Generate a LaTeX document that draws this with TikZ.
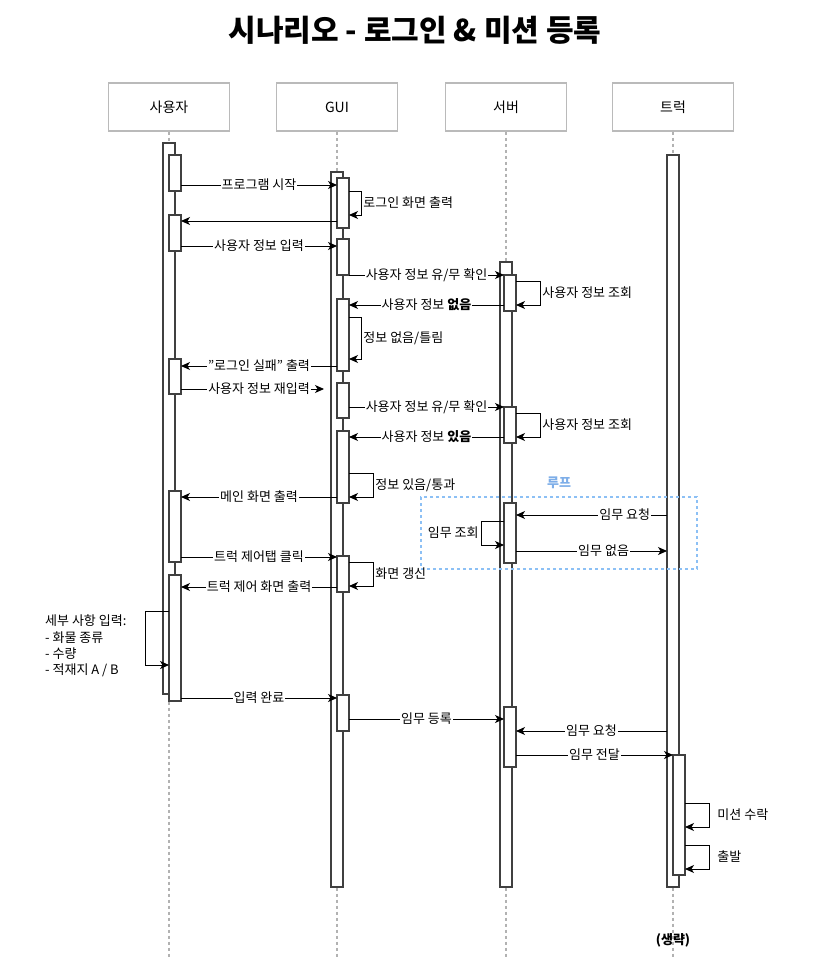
\documentclass[tikz,border=0pt]{standalone}
\usepackage{fontspec}
\setmainfont{Noto Sans CJK KR}
\usetikzlibrary{arrows.meta,fit}
\definecolor{loopblue}{HTML}{8CC0F5}
\definecolor{looptext}{HTML}{7EAEE8}
\begin{document}
\begin{tikzpicture}[x=1pt,y=-1pt,
  part/.style={draw=black!27, line width=1.3pt, fill=white, minimum width=121pt, minimum height=48pt, inner sep=0pt, font=\fontsize{14}{16}\selectfont},
  life/.style={draw=black!30, line width=1.2pt, dash pattern=on 3pt off 3pt},
  actbar/.style={draw=black!75, line width=1.4pt, fill=white, inner sep=0pt, outer sep=0pt},
  msg/.style={-{Stealth[length=9pt,width=8pt,inset=2.5pt]}, line width=0.9pt},
  lbl/.style={fill=white, inner sep=1pt, font=\fontsize{13}{15}\selectfont},
  slbl/.style={inner sep=2pt, font=\fontsize{13}{15}\selectfont},
  ]
\useasboundingbox (0,0) rectangle (817,957);

% title
\node[font=\fontsize{30}{33}\selectfont\bfseries] (title) at (415,30) {시나리오 - 로그인 \& 미션 등록};

% participants
\node[part] (pU) at (169,107) {사용자};
\node[part] (pG) at (337,107) {GUI};
\node[part] (pS) at (506,107) {서버};
\node[part] (pT) at (673,107) {트럭};

\draw[life] (pU.south) -- (pU.south |- 0,957);
\draw[life] (pG.south) -- (pG.south |- 0,957);
\draw[life] (pS.south) -- (pS.south |- 0,957);
\draw[life] (pT.south) -- (pT.south |- 0,957);

% outer bars
\node[actbar, fit={(163,143)(175,694)}] (uo) {};
\node[actbar, fit={(331,172)(343,887)}] (go) {};
\node[actbar, fit={(500,262)(512,887)}] (so) {};
\node[actbar, fit={(667,155)(679,887)}] (to) {};

% user inner bars
\node[actbar, fit={(169,155)(181,191)}] (u1) {};
\node[actbar, fit={(169,215)(181,251)}] (u2) {};
\node[actbar, fit={(169,359)(181,394)}] (u3) {};
\node[actbar, fit={(169,491)(181,562)}] (u4) {};
\node[actbar, fit={(169,575)(181,701)}] (u5) {};

% gui inner bars
\node[actbar, fit={(337,178)(349,228)}] (g1) {};
\node[actbar, fit={(337,239)(349,275)}] (g2) {};
\node[actbar, fit={(337,299)(349,371)}] (g3) {};
\node[actbar, fit={(337,383)(349,418)}] (g4) {};
\node[actbar, fit={(337,431)(349,503)}] (g5) {};
\node[actbar, fit={(337,556)(349,592)}] (g6) {};
\node[actbar, fit={(337,695)(349,731)}] (g7) {};

% server inner bars
\node[actbar, fit={(504,275)(516,311)}] (s1) {};
\node[actbar, fit={(504,407)(516,443)}] (s2) {};
\node[actbar, fit={(504,503)(516,563)}] (s3) {};
\node[actbar, fit={(504,707)(516,767)}] (s4) {};

% truck inner bar
\node[actbar, fit={(673,755)(685,875)}] (t1) {};

% loop frame
\node[draw=loopblue, line width=1.3pt, dash pattern=on 3pt off 3pt, inner sep=0pt, fit={(421,497)(697,569)}] (loop) {};
\node[font=\fontsize{13}{15}\selectfont\bfseries, text=looptext] (looplbl) at (559,483) {루프};

% messages
\draw[msg] (u1.east |- 0,185) -- node[lbl]{프로그램 시작} (g1.west |- 0,185);
\draw[msg] (g1.east |- 0,191) -- ++(12,0) |- node[slbl, right, pos=0.25]{로그인 화면 출력} (g1.east |- 0,215);
\draw[msg] (g1.west |- 0,221) -- (u2.east |- 0,221);
\draw[msg] (u2.east |- 0,246) -- node[lbl]{사용자 정보 입력} (g2.west |- 0,246);
\draw[msg] (g2.east |- 0,275) -- node[lbl]{사용자 정보 유/무 확인} (s1.west |- 0,275);
\draw[msg] (s1.east |- 0,281) -- ++(24,0) |- node[slbl, right, pos=0.25]{사용자 정보 조회} (s1.east |- 0,305);
\draw[msg] (s1.west |- 0,305) -- node[lbl]{사용자 정보 \textbf{없음}} (g3.east |- 0,305);
\draw[msg] (g3.east |- 0,317) -- ++(12,0) |- node[slbl, right, pos=0.25]{정보 없음/틀림} (g3.east |- 0,359);
\draw[msg] (g3.west |- 0,366) -- node[lbl]{"로그인 실패" 출력} (u3.east |- 0,366);
\coordinate (reinp) at (324,389);
\draw[msg] (u3.east |- 0,389) -- (reinp);
\node[lbl] (reinplbl) at (259,389) {사용자 정보 재입력};
\draw[msg] (g4.east |- 0,407) -- node[lbl]{사용자 정보 유/무 확인} (s2.west |- 0,407);
\draw[msg] (s2.east |- 0,413) -- ++(24,0) |- node[slbl, right, pos=0.25]{사용자 정보 조회} (s2.east |- 0,437);
\draw[msg] (s2.west |- 0,437) -- node[lbl]{사용자 정보 \textbf{있음}} (g5.east |- 0,437);
\draw[msg] (g5.east |- 0,473) -- ++(24,0) |- node[slbl, right, pos=0.25]{정보 있음/통과} (g5.east |- 0,497);
\draw[msg] (g5.west |- 0,497) -- node[lbl]{메인 화면 출력} (u4.east |- 0,497);

\draw[msg] (to.west |- 0,515) -- node[lbl, pos=0.28]{임무 요청} (s3.east |- 0,515);
\draw[msg] (s3.west |- 0,521) -- ++(-23,0) |- node[slbl, left, pos=0.25]{임무 조회} (s3.west |- 0,545);
\draw[msg] (s3.east |- 0,551) -- node[lbl, pos=0.58]{임무 없음} (to.west |- 0,551);

\draw[msg] (u4.east |- 0,557) -- node[lbl]{트럭 제어탭 클릭} (g6.west |- 0,557);
\draw[msg] (g6.east |- 0,562) -- ++(24,0) |- node[slbl, right, pos=0.25]{화면 갱신} (g6.east |- 0,586);
\draw[msg] (g6.west |- 0,587) -- node[lbl]{트럭 제어 화면 출력} (u5.east |- 0,587);

\draw[msg] (u5.west |- 0,611) -- ++(-24,0) |- (u5.west |- 0,665);
\node[anchor=west, align=left, inner sep=0pt, font=\fontsize{13}{16.3}\selectfont] (detail) at (45,646)
  {세부 사항 입력:\\- 화물 종류\\- 수량\\- 적재지 A / B};

\draw[msg] (u5.east |- 0,698) -- node[lbl]{입력 완료} (g7.west |- 0,698);
\draw[msg] (g7.east |- 0,719) -- node[lbl]{임무 등록} (s4.west |- 0,719);
\draw[msg] (to.west |- 0,731) -- node[lbl]{임무 요청} (s4.east |- 0,731);
\draw[msg] (s4.east |- 0,755) -- node[lbl]{임무 전달} (t1.west |- 0,755);
\draw[msg] (t1.east |- 0,803) -- ++(24,0) |- node[slbl, right=6pt, pos=0.25]{미션 수락} (t1.east |- 0,827);
\draw[msg] (t1.east |- 0,845) -- ++(24,0) |- node[slbl, right=6pt, pos=0.25]{출발} (t1.east |- 0,869);

\node[font=\fontsize{13}{15}\selectfont\bfseries] (omit) at (673,940) {(생략)};
\end{tikzpicture}
\end{document}
